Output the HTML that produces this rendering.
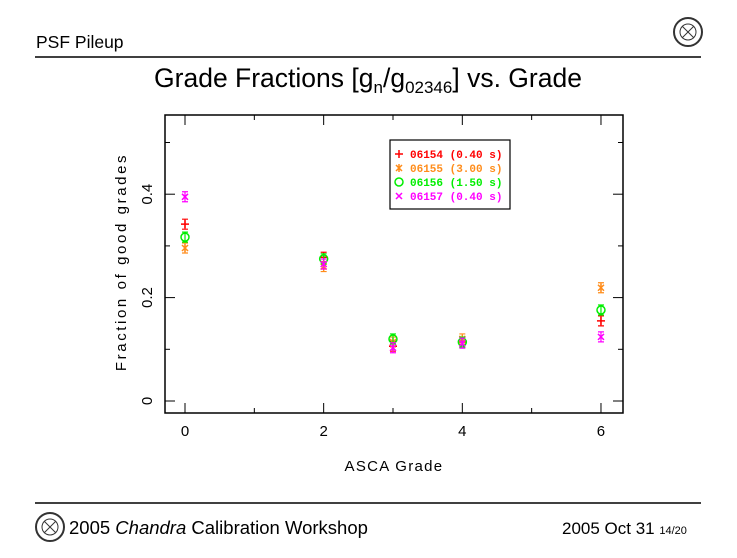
<!DOCTYPE html>
<html><head><meta charset="utf-8"><style>
body{margin:0;background:#fff;width:737px;height:553px;overflow:hidden;font-family:"Liberation Sans",sans-serif}
</style></head><body>
<svg width="737" height="553" xmlns="http://www.w3.org/2000/svg" font-family="Liberation Sans, sans-serif">
<text x="36" y="48" font-size="17.5">PSF Pileup</text>
<g stroke="#333" fill="none"><circle cx="688" cy="32" r="14" stroke-width="2"/><circle cx="688" cy="32" r="8"/><line x1="682" y1="26" x2="694" y2="38"/><line x1="694" y1="26" x2="682" y2="38"/></g>
<line x1="35" y1="57" x2="701" y2="57" stroke="#000" stroke-width="1.5"/>
<text x="368" y="87" font-size="26.5" text-anchor="middle">Grade Fractions [g<tspan font-size="17" dy="6">n</tspan><tspan dy="-6">/g</tspan><tspan font-size="17" dy="6">02346</tspan><tspan dy="-6">] vs. Grade</tspan></text>
<rect x="165" y="115" width="458" height="298" fill="none" stroke="#000" stroke-width="1.5"/>
<g id="axes"></g>
<g id="marks"></g>
<text transform="translate(126,262) rotate(-90)" font-size="15" text-anchor="middle" letter-spacing="2.6">Fraction of good grades</text>
<text x="394" y="471" font-size="15" text-anchor="middle" letter-spacing="1.3">ASCA Grade</text>
<g>
<rect x="390" y="140" width="120" height="69" fill="#fff" stroke="#000" stroke-width="1.2"/>
<g id="legend" font-family="Liberation Mono, monospace" font-size="11" font-weight="bold"></g>
</g>
<line x1="35" y1="503" x2="701" y2="503" stroke="#000" stroke-width="1.5"/>
<g stroke="#333" fill="none"><circle cx="50" cy="527" r="14" stroke-width="2"/><circle cx="50" cy="527" r="8"/><line x1="44" y1="521" x2="56" y2="533"/><line x1="56" y1="521" x2="44" y2="533"/></g>
<text x="69" y="534" font-size="18.5">2005 <tspan font-style="italic">Chandra</tspan> Calibration Workshop</text>
<text x="562" y="534" font-size="17">2005 Oct 31 <tspan font-size="11">14/20</tspan></text>
</svg>
<script>
const grades=[0,2,3,4,6];
const seriesNames=["06154 (0.40 s)","06155 (3.00 s)","06156 (1.50 s)","06157 (0.40 s)"];
const s06154=[0.342,0.278,0.106,0.114,0.155];
const s06155=[0.296,0.260,0.114,0.120,0.219];
const s06156=[0.317,0.275,0.120,0.114,0.176];
const s06157=[0.395,0.265,0.103,0.112,0.124];
const xTicks=[0,2,4,6];
const yTicks=[0,0.2,0.4];
const colors=["#ff0000","#ff8c1a","#00ee00","#ff00ff"];
const markers=["plus","star","circle","cross"];
const X=v=>185+v*69.33, Y=v=>401-v*517;
const NS="http://www.w3.org/2000/svg";
function mk(t,a,p){const e=document.createElementNS(NS,t);for(const k in a)e.setAttribute(k,a[k]);p.appendChild(e);return e;}
const ax=document.getElementById('axes');
for(let v=0;v<=6.01;v+=1){const x=X(v),big=xTicks.includes(v);
mk('line',{x1:x,y1:413,x2:x,y2:413-(big?10:5),stroke:'#000'},ax);
mk('line',{x1:x,y1:115,x2:x,y2:115+(big?10:5),stroke:'#000'},ax);}
xTicks.forEach(v=>{const t=mk('text',{x:X(v),y:436,'font-size':15,'text-anchor':'middle'},ax);t.textContent=v;

});
for(let v=0;v<=0.56;v+=0.1){const y=Y(v),big=Math.abs(v*10%2)<0.01;
mk('line',{x1:165,y1:y,x2:165+(big?10:5),y2:y,stroke:'#000'},ax);
mk('line',{x1:623,y1:y,x2:623-(big?10:5),y2:y,stroke:'#000'},ax);}
yTicks.forEach(v=>{const t=mk('text',{transform:`translate(152,${Y(v)}) rotate(-90)`,'font-size':15,'text-anchor':'middle'},ax);t.textContent=v===0?'0':String(v);

});
function marker(type,x,y,c,p){const g=mk('g',{stroke:c,fill:'none','stroke-width':1.5},p);
if(type==='plus'){mk('path',{d:`M${x-4} ${y}H${x+4}M${x} ${y-4}V${y+4}`},g);}
else if(type==='star'){mk('path',{d:`M${x-3} ${y-3}L${x+3} ${y+3}M${x+3} ${y-3}L${x-3} ${y+3}M${x} ${y-4}V${y+4}`},g);}
else if(type==='circle'){mk('circle',{cx:x,cy:y,r:4},g);}
else{mk('path',{d:`M${x-3} ${y-3}L${x+3} ${y+3}M${x+3} ${y-3}L${x-3} ${y+3}`},g);}
return g;}
const mg=document.getElementById('marks');
[s06154,s06155,s06156,s06157].forEach((s,i)=>{s.forEach((v,j)=>{const x=X(grades[j]),y=Y(v);
const g=marker(markers[i],x,y,colors[i],mg);


mk('path',{d:`M${x} ${y-5}V${y+5}M${x-3} ${y-5}H${x+3}M${x-3} ${y+5}H${x+3}`,'stroke-width':1.2},g);});});
const lg=document.getElementById('legend');
seriesNames.forEach((n,i)=>{const y=155+i*14;const g=marker(markers[i],399,y-1,colors[i],lg);


const t=mk('text',{x:410,y:y+3,fill:colors[i]},lg);t.textContent=n;

});
</script>
</body></html>
